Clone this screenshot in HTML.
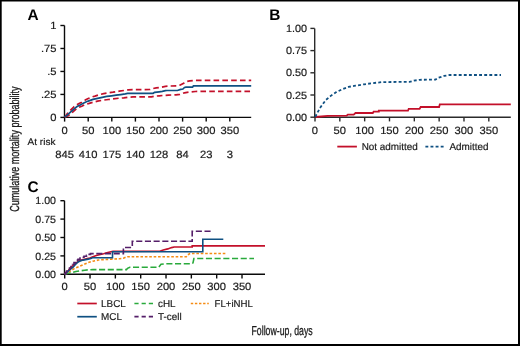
<!DOCTYPE html>
<html><head><meta charset="utf-8"><style>
html,body{margin:0;padding:0;background:#fff;width:520px;height:346px;overflow:hidden}
svg{display:block;will-change:transform}
text{font-family:"Liberation Sans", sans-serif;text-rendering:geometricPrecision}
</style></head><body>
<svg width="520" height="346" viewBox="0 0 520 346">
<rect width="520" height="346" fill="#fff"/>
<text x="27.60" y="20.00" font-size="15.4" text-anchor="start" font-weight="bold" fill="#000">A</text>
<line x1="64.5" y1="25.5" x2="64.5" y2="117.9" stroke="#0a0a0a" stroke-width="1.4"/>
<line x1="60.4" y1="117.4" x2="64.5" y2="117.4" stroke="#0a0a0a" stroke-width="1.4"/>
<text x="56.60" y="121.00" font-size="10.5" text-anchor="end" font-weight="normal" fill="#1a1a1a" stroke="#1a1a1a" stroke-width="0.18" textLength="6.23" lengthAdjust="spacingAndGlyphs">0</text>
<line x1="60.4" y1="94.42500000000001" x2="64.5" y2="94.42500000000001" stroke="#0a0a0a" stroke-width="1.4"/>
<text x="56.60" y="98.03" font-size="10.5" text-anchor="end" font-weight="normal" fill="#1a1a1a" stroke="#1a1a1a" stroke-width="0.18" textLength="15.57" lengthAdjust="spacingAndGlyphs">.25</text>
<line x1="60.4" y1="71.45" x2="64.5" y2="71.45" stroke="#0a0a0a" stroke-width="1.4"/>
<text x="56.60" y="75.05" font-size="10.5" text-anchor="end" font-weight="normal" fill="#1a1a1a" stroke="#1a1a1a" stroke-width="0.18" textLength="9.34" lengthAdjust="spacingAndGlyphs">.5</text>
<line x1="60.4" y1="48.474999999999994" x2="64.5" y2="48.474999999999994" stroke="#0a0a0a" stroke-width="1.4"/>
<text x="56.60" y="52.07" font-size="10.5" text-anchor="end" font-weight="normal" fill="#1a1a1a" stroke="#1a1a1a" stroke-width="0.18" textLength="15.57" lengthAdjust="spacingAndGlyphs">.75</text>
<line x1="60.4" y1="25.5" x2="64.5" y2="25.5" stroke="#0a0a0a" stroke-width="1.4"/>
<text x="56.60" y="29.10" font-size="10.5" text-anchor="end" font-weight="normal" fill="#1a1a1a" stroke="#1a1a1a" stroke-width="0.18" textLength="6.23" lengthAdjust="spacingAndGlyphs">1</text>
<line x1="64.5" y1="117.4" x2="251.2" y2="117.4" stroke="#0a0a0a" stroke-width="1.4"/>
<line x1="64.6" y1="117.4" x2="64.6" y2="121.60000000000001" stroke="#0a0a0a" stroke-width="1.4"/>
<text x="64.60" y="133.60" font-size="10.5" text-anchor="middle" font-weight="normal" fill="#1a1a1a" stroke="#1a1a1a" stroke-width="0.18" textLength="6.23" lengthAdjust="spacingAndGlyphs">0</text>
<line x1="88.19999999999999" y1="117.4" x2="88.19999999999999" y2="121.60000000000001" stroke="#0a0a0a" stroke-width="1.4"/>
<text x="88.20" y="133.60" font-size="10.5" text-anchor="middle" font-weight="normal" fill="#1a1a1a" stroke="#1a1a1a" stroke-width="0.18" textLength="12.46" lengthAdjust="spacingAndGlyphs">50</text>
<line x1="111.8" y1="117.4" x2="111.8" y2="121.60000000000001" stroke="#0a0a0a" stroke-width="1.4"/>
<text x="111.80" y="133.60" font-size="10.5" text-anchor="middle" font-weight="normal" fill="#1a1a1a" stroke="#1a1a1a" stroke-width="0.18" textLength="18.69" lengthAdjust="spacingAndGlyphs">100</text>
<line x1="135.4" y1="117.4" x2="135.4" y2="121.60000000000001" stroke="#0a0a0a" stroke-width="1.4"/>
<text x="135.40" y="133.60" font-size="10.5" text-anchor="middle" font-weight="normal" fill="#1a1a1a" stroke="#1a1a1a" stroke-width="0.18" textLength="18.69" lengthAdjust="spacingAndGlyphs">150</text>
<line x1="159.0" y1="117.4" x2="159.0" y2="121.60000000000001" stroke="#0a0a0a" stroke-width="1.4"/>
<text x="159.00" y="133.60" font-size="10.5" text-anchor="middle" font-weight="normal" fill="#1a1a1a" stroke="#1a1a1a" stroke-width="0.18" textLength="18.69" lengthAdjust="spacingAndGlyphs">200</text>
<line x1="182.6" y1="117.4" x2="182.6" y2="121.60000000000001" stroke="#0a0a0a" stroke-width="1.4"/>
<text x="182.60" y="133.60" font-size="10.5" text-anchor="middle" font-weight="normal" fill="#1a1a1a" stroke="#1a1a1a" stroke-width="0.18" textLength="18.69" lengthAdjust="spacingAndGlyphs">250</text>
<line x1="206.20000000000002" y1="117.4" x2="206.20000000000002" y2="121.60000000000001" stroke="#0a0a0a" stroke-width="1.4"/>
<text x="206.20" y="133.60" font-size="10.5" text-anchor="middle" font-weight="normal" fill="#1a1a1a" stroke="#1a1a1a" stroke-width="0.18" textLength="18.69" lengthAdjust="spacingAndGlyphs">300</text>
<line x1="229.8" y1="117.4" x2="229.8" y2="121.60000000000001" stroke="#0a0a0a" stroke-width="1.4"/>
<text x="229.80" y="133.60" font-size="10.5" text-anchor="middle" font-weight="normal" fill="#1a1a1a" stroke="#1a1a1a" stroke-width="0.18" textLength="18.69" lengthAdjust="spacingAndGlyphs">350</text>
<text x="27.60" y="145.40" font-size="9.7" text-anchor="start" font-weight="normal" fill="#1a1a1a" stroke="#1a1a1a" stroke-width="0.18" textLength="27.89" lengthAdjust="spacingAndGlyphs">At risk</text>
<text x="64.60" y="157.70" font-size="10.5" text-anchor="middle" font-weight="normal" fill="#1a1a1a" stroke="#1a1a1a" stroke-width="0.18" textLength="18.69" lengthAdjust="spacingAndGlyphs">845</text>
<text x="88.20" y="157.70" font-size="10.5" text-anchor="middle" font-weight="normal" fill="#1a1a1a" stroke="#1a1a1a" stroke-width="0.18" textLength="18.69" lengthAdjust="spacingAndGlyphs">410</text>
<text x="111.80" y="157.70" font-size="10.5" text-anchor="middle" font-weight="normal" fill="#1a1a1a" stroke="#1a1a1a" stroke-width="0.18" textLength="18.69" lengthAdjust="spacingAndGlyphs">175</text>
<text x="135.40" y="157.70" font-size="10.5" text-anchor="middle" font-weight="normal" fill="#1a1a1a" stroke="#1a1a1a" stroke-width="0.18" textLength="18.69" lengthAdjust="spacingAndGlyphs">140</text>
<text x="159.00" y="157.70" font-size="10.5" text-anchor="middle" font-weight="normal" fill="#1a1a1a" stroke="#1a1a1a" stroke-width="0.18" textLength="18.69" lengthAdjust="spacingAndGlyphs">128</text>
<text x="182.60" y="157.70" font-size="10.5" text-anchor="middle" font-weight="normal" fill="#1a1a1a" stroke="#1a1a1a" stroke-width="0.18" textLength="12.46" lengthAdjust="spacingAndGlyphs">84</text>
<text x="206.20" y="157.70" font-size="10.5" text-anchor="middle" font-weight="normal" fill="#1a1a1a" stroke="#1a1a1a" stroke-width="0.18" textLength="12.46" lengthAdjust="spacingAndGlyphs">23</text>
<text x="229.80" y="157.70" font-size="10.5" text-anchor="middle" font-weight="normal" fill="#1a1a1a" stroke="#1a1a1a" stroke-width="0.18" textLength="6.23" lengthAdjust="spacingAndGlyphs">3</text>
<polyline points="64.70,117.20 67.70,113.10 71.60,109.20 73.90,106.80 78.60,103.70 81.75,102.20 85.70,99.80 88.80,98.25 92.70,96.70 95.00,96.10 99.20,94.70 103.80,93.60 108.40,92.80 113.00,92.20 119.20,91.20 123.80,90.50 128.40,89.80 133.00,89.60 150.00,89.50 153.10,88.50 156.20,87.90 161.50,87.20 165.40,86.40 170.00,86.00 176.80,85.90 179.80,85.20 183.70,83.20 186.00,81.70 189.80,80.90 195.20,80.30 251.20,80.30" fill="none" stroke="#c3102a" stroke-width="1.7" stroke-dasharray="5.6 3.2" stroke-linecap="butt" stroke-linejoin="miter"/>
<polyline points="64.70,117.20 68.50,115.40 72.40,112.30 77.00,108.20 81.75,106.20 85.00,104.70 90.00,103.10 93.00,102.30 97.60,101.10 103.00,100.20 108.40,99.50 113.00,98.90 119.20,98.20 123.80,97.80 128.40,97.20 133.00,96.90 151.50,96.90 154.60,96.20 159.20,95.80 163.80,95.40 168.50,95.10 176.00,94.80 179.80,94.40 184.50,92.80 189.10,92.10 195.20,91.50 204.50,91.30 251.20,91.30" fill="none" stroke="#c3102a" stroke-width="1.7" stroke-dasharray="5.6 3.2" stroke-linecap="butt" stroke-linejoin="miter"/>
<polyline points="64.70,117.20 65.30,116.60 68.50,113.90 71.60,111.10 74.70,108.40 77.10,106.50 80.20,104.90 83.30,103.30 86.40,101.80 89.60,100.60 93.00,99.40 97.60,98.30 102.20,97.30 106.80,96.40 111.50,95.80 116.10,95.20 120.70,94.60 125.30,93.90 127.60,93.40 130.00,93.30 153.10,93.30 154.60,92.30 159.20,91.80 162.30,91.40 165.40,90.60 167.00,90.50 177.50,90.50 180.60,89.40 182.90,89.00 184.50,87.50 186.00,87.10 192.60,87.10 193.40,85.90 251.20,85.90" fill="none" stroke="#0f5082" stroke-width="1.7" stroke-linecap="butt" stroke-linejoin="miter"/>
<text x="269.30" y="20.40" font-size="15.4" text-anchor="start" font-weight="bold" fill="#000">B</text>
<line x1="314.7" y1="28.4" x2="314.7" y2="117.7" stroke="#2b2b2b" stroke-width="1.4"/>
<line x1="310.4" y1="117.2" x2="314.7" y2="117.2" stroke="#2b2b2b" stroke-width="1.4"/>
<text x="307.10" y="120.80" font-size="10.5" text-anchor="end" font-weight="normal" fill="#1a1a1a" stroke="#1a1a1a" stroke-width="0.18" textLength="21.15" lengthAdjust="spacingAndGlyphs">0.00</text>
<line x1="310.4" y1="95.0" x2="314.7" y2="95.0" stroke="#2b2b2b" stroke-width="1.4"/>
<text x="307.10" y="98.60" font-size="10.5" text-anchor="end" font-weight="normal" fill="#1a1a1a" stroke="#1a1a1a" stroke-width="0.18" textLength="21.15" lengthAdjust="spacingAndGlyphs">0.25</text>
<line x1="310.4" y1="72.8" x2="314.7" y2="72.8" stroke="#2b2b2b" stroke-width="1.4"/>
<text x="307.10" y="76.40" font-size="10.5" text-anchor="end" font-weight="normal" fill="#1a1a1a" stroke="#1a1a1a" stroke-width="0.18" textLength="21.15" lengthAdjust="spacingAndGlyphs">0.50</text>
<line x1="310.4" y1="50.599999999999994" x2="314.7" y2="50.599999999999994" stroke="#2b2b2b" stroke-width="1.4"/>
<text x="307.10" y="54.20" font-size="10.5" text-anchor="end" font-weight="normal" fill="#1a1a1a" stroke="#1a1a1a" stroke-width="0.18" textLength="21.15" lengthAdjust="spacingAndGlyphs">0.75</text>
<line x1="310.4" y1="28.39999999999999" x2="314.7" y2="28.39999999999999" stroke="#2b2b2b" stroke-width="1.4"/>
<text x="307.10" y="32.00" font-size="10.5" text-anchor="end" font-weight="normal" fill="#1a1a1a" stroke="#1a1a1a" stroke-width="0.18" textLength="21.15" lengthAdjust="spacingAndGlyphs">1.00</text>
<line x1="314.7" y1="117.2" x2="510.8" y2="117.2" stroke="#2b2b2b" stroke-width="1.4"/>
<line x1="315.0" y1="117.2" x2="315.0" y2="121.4" stroke="#2b2b2b" stroke-width="1.4"/>
<text x="315.00" y="133.80" font-size="10.5" text-anchor="middle" font-weight="normal" fill="#1a1a1a" stroke="#1a1a1a" stroke-width="0.18" textLength="6.23" lengthAdjust="spacingAndGlyphs">0</text>
<line x1="339.83" y1="117.2" x2="339.83" y2="121.4" stroke="#2b2b2b" stroke-width="1.4"/>
<text x="339.83" y="133.80" font-size="10.5" text-anchor="middle" font-weight="normal" fill="#1a1a1a" stroke="#1a1a1a" stroke-width="0.18" textLength="12.46" lengthAdjust="spacingAndGlyphs">50</text>
<line x1="364.65999999999997" y1="117.2" x2="364.65999999999997" y2="121.4" stroke="#2b2b2b" stroke-width="1.4"/>
<text x="364.66" y="133.80" font-size="10.5" text-anchor="middle" font-weight="normal" fill="#1a1a1a" stroke="#1a1a1a" stroke-width="0.18" textLength="18.69" lengthAdjust="spacingAndGlyphs">100</text>
<line x1="389.49" y1="117.2" x2="389.49" y2="121.4" stroke="#2b2b2b" stroke-width="1.4"/>
<text x="389.49" y="133.80" font-size="10.5" text-anchor="middle" font-weight="normal" fill="#1a1a1a" stroke="#1a1a1a" stroke-width="0.18" textLength="18.69" lengthAdjust="spacingAndGlyphs">150</text>
<line x1="414.32" y1="117.2" x2="414.32" y2="121.4" stroke="#2b2b2b" stroke-width="1.4"/>
<text x="414.32" y="133.80" font-size="10.5" text-anchor="middle" font-weight="normal" fill="#1a1a1a" stroke="#1a1a1a" stroke-width="0.18" textLength="18.69" lengthAdjust="spacingAndGlyphs">200</text>
<line x1="439.15" y1="117.2" x2="439.15" y2="121.4" stroke="#2b2b2b" stroke-width="1.4"/>
<text x="439.15" y="133.80" font-size="10.5" text-anchor="middle" font-weight="normal" fill="#1a1a1a" stroke="#1a1a1a" stroke-width="0.18" textLength="18.69" lengthAdjust="spacingAndGlyphs">250</text>
<line x1="463.98" y1="117.2" x2="463.98" y2="121.4" stroke="#2b2b2b" stroke-width="1.4"/>
<text x="463.98" y="133.80" font-size="10.5" text-anchor="middle" font-weight="normal" fill="#1a1a1a" stroke="#1a1a1a" stroke-width="0.18" textLength="18.69" lengthAdjust="spacingAndGlyphs">300</text>
<line x1="488.81" y1="117.2" x2="488.81" y2="121.4" stroke="#2b2b2b" stroke-width="1.4"/>
<text x="488.81" y="133.80" font-size="10.5" text-anchor="middle" font-weight="normal" fill="#1a1a1a" stroke="#1a1a1a" stroke-width="0.18" textLength="18.69" lengthAdjust="spacingAndGlyphs">350</text>
<polyline points="315.50,117.00 327.60,115.90 346.70,115.60 347.80,114.60 353.70,114.60 355.50,113.00 372.80,113.00 373.60,111.70 378.80,111.70 378.80,110.70 408.00,110.70 408.70,108.80 419.60,108.80 420.70,107.00 439.10,107.00 439.80,104.40 510.80,104.40" fill="none" stroke="#c3102a" stroke-width="1.8" stroke-linecap="butt" stroke-linejoin="miter"/>
<polyline points="315.50,117.00 316.30,114.70 320.70,106.90 325.90,99.90 331.10,95.60 336.30,92.10 342.40,89.20 348.50,86.90 355.40,85.70 364.10,84.30 372.80,83.10 381.40,82.20 391.00,82.00 409.50,81.90 413.80,80.70 419.60,79.80 435.50,79.60 438.40,77.80 444.10,75.90 449.90,75.00 501.00,75.00" fill="none" stroke="#0f5082" stroke-width="1.8" stroke-dasharray="2.9 2.2" stroke-linecap="butt" stroke-linejoin="miter"/>
<line x1="337.3" y1="146.6" x2="356.9" y2="146.6" stroke="#c3102a" stroke-width="1.8"/>
<text x="361.70" y="150.30" font-size="10" text-anchor="start" font-weight="normal" fill="#1a1a1a" stroke="#1a1a1a" stroke-width="0.18" textLength="56.13" lengthAdjust="spacingAndGlyphs">Not admitted</text>
<line x1="425.4" y1="146.6" x2="444.6" y2="146.6" stroke="#0f5082" stroke-width="1.8" stroke-dasharray="2.9 2.2"/>
<text x="449.40" y="150.30" font-size="10" text-anchor="start" font-weight="normal" fill="#1a1a1a" stroke="#1a1a1a" stroke-width="0.18" textLength="39.07" lengthAdjust="spacingAndGlyphs">Admitted</text>
<text x="27.60" y="192.20" font-size="15.4" text-anchor="start" font-weight="bold" fill="#000">C</text>
<line x1="64.5" y1="200.7" x2="64.5" y2="274.8" stroke="#0a0a0a" stroke-width="1.4"/>
<line x1="60.4" y1="274.3" x2="64.5" y2="274.3" stroke="#0a0a0a" stroke-width="1.4"/>
<text x="56.00" y="277.90" font-size="10.5" text-anchor="end" font-weight="normal" fill="#1a1a1a" stroke="#1a1a1a" stroke-width="0.18" textLength="20.74" lengthAdjust="spacingAndGlyphs">0.00</text>
<line x1="60.4" y1="255.9" x2="64.5" y2="255.9" stroke="#0a0a0a" stroke-width="1.4"/>
<text x="56.00" y="259.50" font-size="10.5" text-anchor="end" font-weight="normal" fill="#1a1a1a" stroke="#1a1a1a" stroke-width="0.18" textLength="20.74" lengthAdjust="spacingAndGlyphs">0.25</text>
<line x1="60.4" y1="237.5" x2="64.5" y2="237.5" stroke="#0a0a0a" stroke-width="1.4"/>
<text x="56.00" y="241.10" font-size="10.5" text-anchor="end" font-weight="normal" fill="#1a1a1a" stroke="#1a1a1a" stroke-width="0.18" textLength="20.74" lengthAdjust="spacingAndGlyphs">0.50</text>
<line x1="60.4" y1="219.1" x2="64.5" y2="219.1" stroke="#0a0a0a" stroke-width="1.4"/>
<text x="56.00" y="222.70" font-size="10.5" text-anchor="end" font-weight="normal" fill="#1a1a1a" stroke="#1a1a1a" stroke-width="0.18" textLength="20.74" lengthAdjust="spacingAndGlyphs">0.75</text>
<line x1="60.4" y1="200.7" x2="64.5" y2="200.7" stroke="#0a0a0a" stroke-width="1.4"/>
<text x="56.00" y="204.30" font-size="10.5" text-anchor="end" font-weight="normal" fill="#1a1a1a" stroke="#1a1a1a" stroke-width="0.18" textLength="20.74" lengthAdjust="spacingAndGlyphs">1.00</text>
<line x1="64.5" y1="274.3" x2="265" y2="274.3" stroke="#0a0a0a" stroke-width="1.4"/>
<line x1="64.7" y1="274.3" x2="64.7" y2="278.5" stroke="#0a0a0a" stroke-width="1.4"/>
<text x="64.70" y="289.90" font-size="10.5" text-anchor="middle" font-weight="normal" fill="#1a1a1a" stroke="#1a1a1a" stroke-width="0.18" textLength="6.23" lengthAdjust="spacingAndGlyphs">0</text>
<line x1="90.03" y1="274.3" x2="90.03" y2="278.5" stroke="#0a0a0a" stroke-width="1.4"/>
<text x="90.03" y="289.90" font-size="10.5" text-anchor="middle" font-weight="normal" fill="#1a1a1a" stroke="#1a1a1a" stroke-width="0.18" textLength="12.46" lengthAdjust="spacingAndGlyphs">50</text>
<line x1="115.36" y1="274.3" x2="115.36" y2="278.5" stroke="#0a0a0a" stroke-width="1.4"/>
<text x="115.36" y="289.90" font-size="10.5" text-anchor="middle" font-weight="normal" fill="#1a1a1a" stroke="#1a1a1a" stroke-width="0.18" textLength="18.69" lengthAdjust="spacingAndGlyphs">100</text>
<line x1="140.69" y1="274.3" x2="140.69" y2="278.5" stroke="#0a0a0a" stroke-width="1.4"/>
<text x="140.69" y="289.90" font-size="10.5" text-anchor="middle" font-weight="normal" fill="#1a1a1a" stroke="#1a1a1a" stroke-width="0.18" textLength="18.69" lengthAdjust="spacingAndGlyphs">150</text>
<line x1="166.01999999999998" y1="274.3" x2="166.01999999999998" y2="278.5" stroke="#0a0a0a" stroke-width="1.4"/>
<text x="166.02" y="289.90" font-size="10.5" text-anchor="middle" font-weight="normal" fill="#1a1a1a" stroke="#1a1a1a" stroke-width="0.18" textLength="18.69" lengthAdjust="spacingAndGlyphs">200</text>
<line x1="191.35" y1="274.3" x2="191.35" y2="278.5" stroke="#0a0a0a" stroke-width="1.4"/>
<text x="191.35" y="289.90" font-size="10.5" text-anchor="middle" font-weight="normal" fill="#1a1a1a" stroke="#1a1a1a" stroke-width="0.18" textLength="18.69" lengthAdjust="spacingAndGlyphs">250</text>
<line x1="216.68" y1="274.3" x2="216.68" y2="278.5" stroke="#0a0a0a" stroke-width="1.4"/>
<text x="216.68" y="289.90" font-size="10.5" text-anchor="middle" font-weight="normal" fill="#1a1a1a" stroke="#1a1a1a" stroke-width="0.18" textLength="18.69" lengthAdjust="spacingAndGlyphs">300</text>
<line x1="242.01" y1="274.3" x2="242.01" y2="278.5" stroke="#0a0a0a" stroke-width="1.4"/>
<text x="242.01" y="289.90" font-size="10.5" text-anchor="middle" font-weight="normal" fill="#1a1a1a" stroke="#1a1a1a" stroke-width="0.18" textLength="18.69" lengthAdjust="spacingAndGlyphs">350</text>
<polyline points="64.70,274.20 66.00,273.80 71.10,272.70 75.90,271.50 79.20,270.90 84.80,270.20 89.70,269.70 92.90,269.60 126.50,269.60 127.50,268.30 129.80,267.30 158.60,267.30 161.00,264.30 165.60,263.80 192.00,263.80 193.00,262.90 193.90,258.50 254.00,258.50" fill="none" stroke="#2aaa3c" stroke-width="1.6" stroke-dasharray="6.1 2.6" stroke-linecap="butt" stroke-linejoin="miter"/>
<polyline points="64.70,274.20 66.00,273.30 69.50,271.50 74.30,268.60 78.80,266.60 83.50,264.60 88.20,262.50 92.90,261.20 98.40,260.00 108.80,259.30 119.30,258.80 123.40,258.20 126.30,257.00 128.00,256.70 186.30,256.70 187.50,255.00 190.00,253.50 227.00,253.50" fill="none" stroke="#f58c14" stroke-width="1.6" stroke-dasharray="2.6 1.8" stroke-linecap="butt" stroke-linejoin="miter"/>
<polyline points="64.70,274.20 65.40,273.30 68.50,270.20 71.10,267.20 75.20,264.00 77.80,261.60 80.40,260.30 83.00,259.60 85.60,259.00 88.20,258.40 89.80,258.00 92.90,256.80 96.30,255.40 103.60,253.80 106.80,252.80 110.90,251.80 113.00,251.40 159.80,251.30 163.30,249.90 167.80,248.90 171.60,247.60 174.20,247.00 192.20,247.00 192.20,245.90 265.00,245.90" fill="none" stroke="#c3102a" stroke-width="1.6" stroke-linecap="butt" stroke-linejoin="miter"/>
<polyline points="64.70,274.20 65.40,273.60 69.00,270.40 73.10,267.20 75.20,264.80 77.80,262.20 80.40,260.90 83.00,260.10 85.60,259.60 88.20,259.10 90.80,258.60 92.40,257.80 112.50,257.80 112.50,251.80 202.80,251.80 202.80,239.20 223.30,239.20" fill="none" stroke="#0f5082" stroke-width="1.6" stroke-linecap="butt" stroke-linejoin="miter"/>
<polyline points="64.70,274.20 65.50,274.20 65.50,272.50 66.50,272.50 66.50,271.00 68.00,271.00 68.00,269.50 69.50,269.50 69.50,268.00 71.00,268.00 71.00,266.60 72.50,266.60 72.50,264.50 74.00,264.50 74.00,262.60 75.80,262.60 75.80,260.10 78.00,260.10 78.00,259.30 80.00,259.30 80.00,258.10 82.50,258.10 82.50,257.30 84.00,257.30 84.00,256.30 86.50,256.30 86.50,255.40 88.00,255.40 88.00,254.40 90.50,254.40 90.50,253.60 123.40,253.60 123.40,247.50 132.30,247.50 132.30,241.30 192.20,241.30 192.20,231.30 212.70,231.30" fill="none" stroke="#551e69" stroke-width="1.6" stroke-dasharray="6.1 2.6" stroke-linecap="butt" stroke-linejoin="miter"/>
<line x1="77.3" y1="303.5" x2="96.8" y2="303.5" stroke="#c3102a" stroke-width="1.7"/>
<text x="101.10" y="307.10" font-size="10" text-anchor="start" font-weight="normal" fill="#1a1a1a" stroke="#1a1a1a" stroke-width="0.18" textLength="24.76" lengthAdjust="spacingAndGlyphs">LBCL</text>
<line x1="134.4" y1="303.5" x2="153.7" y2="303.5" stroke="#2aaa3c" stroke-width="1.7" stroke-dasharray="4.2 3"/>
<text x="158.00" y="307.10" font-size="10" text-anchor="start" font-weight="normal" fill="#1a1a1a" stroke="#1a1a1a" stroke-width="0.18" textLength="17.61" lengthAdjust="spacingAndGlyphs">cHL</text>
<line x1="190.8" y1="303.5" x2="208.8" y2="303.5" stroke="#f58c14" stroke-width="1.7" stroke-dasharray="2.4 1.7"/>
<text x="214.50" y="307.10" font-size="10" text-anchor="start" font-weight="normal" fill="#1a1a1a" stroke="#1a1a1a" stroke-width="0.18" textLength="38.35" lengthAdjust="spacingAndGlyphs">FL+iNHL</text>
<line x1="77.3" y1="316.7" x2="96.8" y2="316.7" stroke="#0f5082" stroke-width="1.7"/>
<text x="101.10" y="320.30" font-size="10" text-anchor="start" font-weight="normal" fill="#1a1a1a" stroke="#1a1a1a" stroke-width="0.18" textLength="20.90" lengthAdjust="spacingAndGlyphs">MCL</text>
<line x1="134.4" y1="316.7" x2="153.7" y2="316.7" stroke="#551e69" stroke-width="1.7" stroke-dasharray="4.2 3"/>
<text x="158.00" y="320.30" font-size="10" text-anchor="start" font-weight="normal" fill="#1a1a1a" stroke="#1a1a1a" stroke-width="0.18" textLength="23.65" lengthAdjust="spacingAndGlyphs">T-cell</text>
<text transform="translate(19,211.8) rotate(-90)" x="0" y="0" font-size="13" fill="#1a1a1a" stroke="#1a1a1a" stroke-width="0.3" textLength="125.3" lengthAdjust="spacingAndGlyphs">Cumulative mortality probability</text>
<text x="251.5" y="334.6" font-size="13" fill="#1a1a1a" stroke="#1a1a1a" stroke-width="0.3" textLength="61.2" lengthAdjust="spacingAndGlyphs">Follow-up, days</text>
<rect x="0" y="0" width="520" height="1.5" fill="#000"/>
<rect x="0" y="0" width="1.7" height="346" fill="#000"/>
<rect x="518" y="0" width="2" height="346" fill="#000"/>
<rect x="0" y="344" width="520" height="2" fill="#000"/>
</svg>
</body></html>
